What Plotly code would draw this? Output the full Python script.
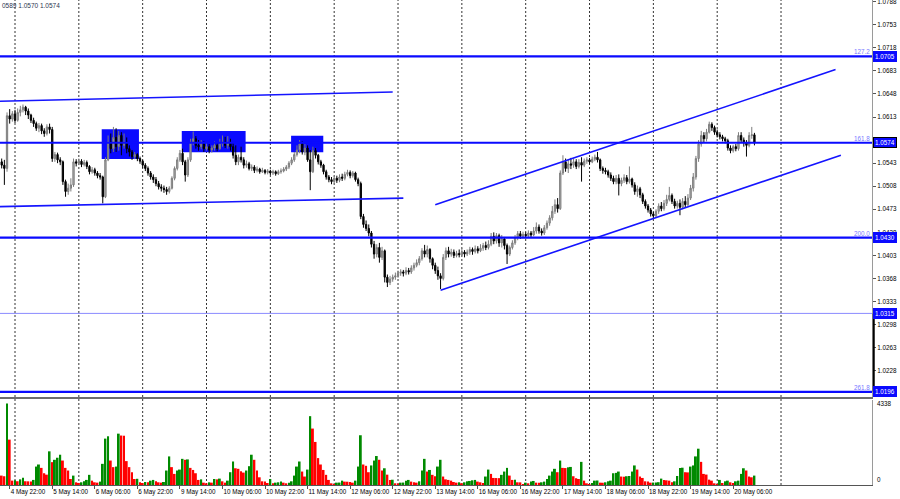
"""
EURUSD H1 with volumes, 4 May - 20 May
"""

import pandas as pd
import plotly.graph_objects as go

# prices in pips above 1.0000 (574 -> 1.0574), one value per hourly bar
first_open = 545
close_pips = [
    540, 535, 615, 610, 618, 608, 620, 624, 628, 622,
    616, 608, 603, 596, 600, 592, 588, 598, 594, 550,
    556, 548, 545, 515, 500, 505, 510, 545, 543, 546,
    541, 544, 538, 530, 533, 528, 524, 522, 492, 548,
    575, 565, 582, 568, 585, 570, 575, 565, 560, 553,
    556, 550, 546, 540, 535, 528, 522, 518, 512, 507,
    505, 503, 500, 505, 520, 535, 548, 558, 545, 525,
    548, 575, 580, 570, 568, 572, 565, 568, 563, 566,
    570, 565, 572, 575, 570, 574, 568, 555, 545, 552,
    548, 540, 542, 535, 537, 532, 534, 530, 532, 529,
    531, 528, 530, 527, 530, 531, 534, 537, 543, 548,
    556, 563, 572, 560, 566, 548, 530, 562, 555, 545,
    540, 530, 522, 518, 515, 520, 517, 522, 520, 526,
    529, 524, 528, 518, 512, 462, 450, 444, 437, 420,
    405, 415, 400, 410, 370, 362, 367, 370, 372, 376,
    378, 376, 380, 378, 384, 388, 392, 398, 410, 405,
    412, 398, 388, 380, 372, 368, 400, 410, 405, 408,
    403, 406, 404, 408, 405, 408, 412, 409, 413, 410,
    414, 418, 415, 420, 432, 425, 433, 422, 428, 418,
    405, 415, 422, 430, 436, 432, 435, 433, 437, 434,
    440, 446, 440, 437, 445, 452, 460, 470, 480, 474,
    528, 545, 535, 542, 540, 545, 538, 544, 540, 546,
    548, 545, 549, 552, 548, 535, 532, 530, 525, 520,
    515, 520, 512, 517, 521, 515, 519, 510, 500, 504,
    495, 485, 478, 472, 466, 463, 470, 478, 474, 482,
    488, 494, 485, 478, 482, 476, 485, 480, 490, 505,
    522, 550, 572, 585, 580, 590, 602, 597, 590, 586,
    583, 580, 577, 566, 562, 568, 565, 585, 578, 574,
    570, 585, 586, 574,
]
high_pips = [
    550, 548, 620, 625, 622, 624, 626, 630, 632, 630,
    626, 618, 612, 606, 604, 603, 596, 602, 603, 598,
    560, 559, 552, 547, 518, 512, 520, 550, 549, 550,
    549, 548, 547, 540, 537, 536, 531, 528, 524, 552,
    585, 588, 598, 596, 592, 590, 588, 582, 570, 563,
    560, 558, 553, 548, 543, 538, 531, 526, 522, 516,
    511, 509, 507, 508, 523, 538, 552, 563, 565, 548,
    552, 580, 591, 584, 578, 578, 576, 574, 572, 570,
    576, 574, 580, 585, 583, 584, 580, 575, 570, 556,
    568, 552, 547, 545, 541, 540, 538, 536, 536, 534,
    534, 533, 533, 532, 533, 535, 537, 540, 546, 552,
    560, 570, 578, 576, 572, 570, 563, 568, 566, 557,
    548, 542, 533, 525, 522, 523, 524, 526, 527, 530,
    533, 532, 531, 530, 521, 515, 466, 456, 450, 440,
    425, 420, 422, 416, 412, 374, 372, 374, 377, 380,
    382, 381, 385, 384, 388, 392, 397, 402, 414, 419,
    418, 414, 400, 392, 386, 376, 405, 415, 416, 413,
    412, 410, 412, 414, 411, 412, 416, 415, 418, 417,
    420, 422, 424, 426, 437, 438, 437, 436, 434, 431,
    421, 418, 426, 434, 440, 440, 439, 438, 441, 440,
    446, 453, 450, 444, 449, 456, 464, 478, 488, 490,
    532, 555, 550, 548, 551, 550, 549, 549, 552, 550,
    552, 551, 553, 556, 560, 550, 538, 536, 533, 529,
    524, 525, 526, 521, 526, 525, 538, 521, 514, 509,
    507, 498, 488, 481, 475, 469, 473, 482, 484, 487,
    495, 507, 497, 489, 486, 488, 490, 493, 496, 510,
    528, 554, 578, 592, 590, 595, 606, 605, 600, 594,
    590, 586, 583, 580, 570, 571, 572, 590, 590, 582,
    578, 590, 598, 589,
]
low_pips = [
    535, 510, 530, 603, 606, 604, 606, 614, 620, 616,
    610, 604, 598, 592, 590, 587, 583, 585, 588, 545,
    545, 543, 540, 510, 492, 495, 500, 507, 538, 540,
    537, 538, 534, 526, 527, 524, 520, 518, 482, 490,
    546, 558, 560, 560, 562, 555, 565, 558, 553, 548,
    549, 546, 542, 536, 531, 524, 518, 513, 508, 503,
    500, 498, 495, 497, 503, 517, 532, 545, 540, 515,
    522, 545, 570, 565, 562, 564, 560, 562, 558, 559,
    562, 561, 563, 568, 566, 565, 562, 550, 540, 540,
    544, 535, 536, 532, 531, 528, 529, 527, 528, 526,
    526, 525, 525, 524, 525, 527, 529, 531, 534, 540,
    545, 553, 558, 556, 555, 545, 502, 528, 550, 541,
    536, 526, 518, 514, 511, 512, 513, 514, 516, 517,
    523, 520, 521, 515, 508, 458, 445, 440, 432, 415,
    398, 400, 392, 396, 362, 355, 358, 363, 366, 369,
    372, 371, 373, 374, 375, 380, 385, 388, 395, 400,
    400, 392, 382, 375, 366, 352, 365, 396, 400, 401,
    399, 400, 400, 402, 400, 402, 404, 404, 406, 406,
    408, 410, 411, 412, 417, 420, 421, 416, 415, 412,
    390, 402, 412, 419, 426, 428, 429, 429, 430, 430,
    432, 436, 436, 433, 434, 442, 448, 456, 466, 468,
    472, 525, 530, 528, 534, 536, 534, 535, 515, 537,
    542, 541, 543, 546, 544, 531, 527, 526, 521, 516,
    511, 511, 494, 508, 513, 511, 512, 506, 495, 492,
    490, 481, 474, 468, 462, 459, 460, 466, 470, 471,
    478, 485, 481, 474, 474, 464, 473, 476, 478, 487,
    500, 518, 545, 568, 574, 576, 588, 592, 586, 582,
    579, 576, 573, 562, 558, 559, 561, 562, 574, 568,
    553, 567, 580, 570,
]
volumes = [
    500, 465, 4338, 2412, 232, 250, 200, 300, 380, 200,
    195, 190, 270, 980, 1090, 910, 625, 550, 1790, 1215,
    1340, 1450, 1610, 1300, 910, 770, 320, 500, 143, 110,
    143, 200, 270, 540, 230, 143, 125, 180, 1125, 2466,
    2590, 1300, 950, 980, 2730, 2630, 2620, 1270, 950, 680,
    320, 330, 143, 107, 160, 150, 230, 270, 196, 143,
    125, 160, 770, 1520, 950, 590, 770, 820, 1390, 1340,
    1360, 910, 800, 625, 270, 300, 125, 90, 143, 125,
    320, 300, 340, 196, 125, 232, 680, 1250, 890, 860,
    730, 660, 770, 1000, 1610, 1340, 770, 410, 196, 190,
    107, 320, 90, 125, 143, 180, 125, 90, 125, 196,
    500, 980, 1250, 715, 450, 820, 3660, 3000, 2290, 1430,
    1090, 800, 540, 270, 90, 54, 125, 130, 232, 180,
    175, 160, 125, 232, 980, 2645, 1090, 1020, 680, 1040,
    1300, 1540, 1340, 770, 890, 550, 270, 280, 90, 85,
    125, 130, 232, 270, 180, 143, 125, 196, 770, 1390,
    715, 800, 540, 465, 980, 1340, 450, 300, 270, 232,
    160, 125, 143, 90, 143, 196, 215, 250, 270, 180,
    143, 107, 450, 820, 590, 375, 370, 365, 540, 715,
    910, 500, 270, 280, 143, 140, 40, 125, 90, 180,
    215, 125, 120, 143, 180, 320, 500, 715, 860, 680,
    1300, 910, 900, 940, 960, 465, 360, 320, 1230, 232,
    90, 54, 107, 232, 240, 125, 120, 143, 196, 230,
    625, 645, 715, 450, 440, 465, 480, 715, 1040, 820,
    450, 375, 196, 180, 125, 130, 135, 150, 340, 270,
    250, 232, 143, 196, 480, 910, 920, 680, 670, 980,
    1040, 1520, 1930, 1230, 590, 555, 285, 232, 90, 54,
    270, 107, 196, 232, 143, 107, 196, 232, 590, 890,
    770, 450, 410, 500,
]

time_labels = ['4 May 22:00', '5 May 14:00', '6 May 06:00', '6 May 22:00',
               '9 May 14:00', '10 May 06:00', '10 May 22:00', '11 May 14:00',
               '12 May 06:00', '12 May 22:00', '13 May 14:00', '16 May 06:00',
               '16 May 22:00', '17 May 14:00', '18 May 06:00', '18 May 22:00',
               '19 May 14:00', '20 May 06:00']

level_prices = [1.0705, 1.0574, 1.0430, 1.0315, 1.0196]
level_names = ['127.2', '161.8', '200.0', '', '261.8']

# trend channels: (bar, pips) -> (bar, pips)
channels = [((-1, 637), (147, 651)),
            ((-1, 477), (151, 490)),
            ((163, 480), (313.5, 685)),
            ((165, 350), (315.5, 555))]
# blue zones: bar from, bar to, pips low, pips high
zones = [(37.6, 51.6, 549.3, 594.3),
         (67.7, 91.7, 559.4, 591.8),
         (108.8, 120.9, 559.4, 584.6)]

header = '0589 1.0570 1.0574'
vol_max = 4338

FONT = 'Liberation Sans'
BLUE = '#0a0aff'


def px(p):
    return 1 + p / 10000


n = len(close_pips)
cal = pd.date_range('2022-05-04 19:00', '2022-05-23 12:00', freq='h')
cal = cal[cal.dayofweek < 5]
cal_labels = [f"{t.day} {t:%b %H:%M}" for t in cal]
tick_pos = [cal_labels.index(s) for s in time_labels]
day_pos = [k for k, t in enumerate(cal) if t.hour == 0]

bars = list(range(n))
opens = [first_open] + close_pips[:-1]
o = [px(v) for v in opens]
c = [px(v) for v in close_pips]
h = [px(max(a, b, v)) for a, b, v in zip(opens, close_pips, high_pips)]
l = [px(min(a, b, v)) for a, b, v in zip(opens, close_pips, low_pips)]

vol_colors = ['#008a00' if k > 0 and v > volumes[k - 1] else '#ff0000'
              for k, v in enumerate(volumes)]

fig = go.Figure()
fig.add_trace(go.Candlestick(
    x=bars, open=o, high=h, low=l, close=c,
    increasing=dict(line=dict(color='#7c7c7c', width=1), fillcolor='#b4b4b4'),
    decreasing=dict(line=dict(color='#000000', width=1), fillcolor='#000000'),
    whiskerwidth=0, hoverinfo='skip', xaxis='x', yaxis='y'))
fig.add_trace(go.Bar(
    x=bars, y=volumes, marker_color=vol_colors, marker_line_width=0,
    width=0.72, hoverinfo='skip', xaxis='x2', yaxis='y2'))

shapes = []
# day separators (dotted grid)
for d in day_pos:
    shapes.append(dict(type='line', xref='x', yref='paper', x0=d, x1=d,
                       y0=0, y1=1, layer='below',
                       line=dict(color='#333333', width=1, dash='2px,2px')))
for x0, x1, p0, p1 in zones:
    shapes.append(dict(type='rect', xref='x', yref='y', x0=x0, x1=x1,
                       y0=px(p0), y1=px(p1), fillcolor=BLUE,
                       line=dict(width=0), layer='below'))
for (a, pa), (b, pb) in channels:
    shapes.append(dict(type='line', xref='x', yref='y', x0=a, x1=b,
                       y0=px(pa), y1=px(pb),
                       line=dict(color='#1414ff', width=1.6)))
for lv, nm in zip(level_prices, level_names):
    thin = nm == ''
    shapes.append(dict(type='line', xref='paper', yref='y', x0=0, x1=1,
                       y0=lv, y1=lv,
                       line=dict(color='#8a8aff' if thin else BLUE,
                                 width=1 if thin else 2.2)))
# dark mark on the price scale
shapes.append(dict(type='line', xref='paper', yref='y', x0=1.002, x1=1.002,
                   y0=level_prices[3], y1=level_prices[4],
                   line=dict(color='#000000', width=2)))

annotations = [dict(text=header, x=0, y=1, xref='paper', yref='paper',
                    xanchor='left', yanchor='top', showarrow=False,
                    font=dict(family=FONT, size=6.5, color='#2b3550'),
                    yshift=0)]
for lv, nm in zip(level_prices, level_names):
    if nm:
        annotations.append(dict(text=nm, x=1, y=lv, xref='paper', yref='y',
                                xanchor='right', yanchor='bottom',
                                showarrow=False, yshift=-1,
                                font=dict(family=FONT, size=6.3,
                                          color='#7878ff')))
    annotations.append(dict(text=f"{lv:.4f}", x=1, y=lv, xref='paper',
                            yref='y', xanchor='left', yanchor='middle',
                            xshift=1, showarrow=False, bgcolor=BLUE,
                            borderpad=1,
                            bordercolor='#000000' if lv == 1.0574 else BLUE,
                            borderwidth=1,
                            font=dict(family=FONT, size=6.3,
                                      color='#ffffff')))
annotations.append(dict(text=str(vol_max), x=1, y=vol_max, xref='paper',
                        yref='y2', xanchor='left', yanchor='middle', xshift=3,
                        showarrow=False,
                        font=dict(family=FONT, size=6.3, color='#000000')))
annotations.append(dict(text='0', x=1, y=0, xref='paper', yref='y2',
                        xanchor='left', yanchor='bottom', xshift=3,
                        showarrow=False,
                        font=dict(family=FONT, size=6.3, color='#000000')))

price_ticks = [round(1.0788 - 0.0035 * k, 4) for k in range(18)]
# the labels under the 1.0574 and 1.0196 price boxes are hidden
price_text = ['' if v in (1.0578, 1.0193) else f"{v:.4f}" for v in price_ticks]
x_range = [-0.64, 327.2]

fig.update_layout(
    width=900, height=499,
    margin=dict(l=0, r=28, t=0, b=14),
    paper_bgcolor='white', plot_bgcolor='white',
    showlegend=False, hovermode=False,
    font=dict(family=FONT, size=6.3, color='#000000'),
    shapes=shapes, annotations=annotations,
    xaxis=dict(domain=[0, 1], range=x_range, anchor='y', automargin=False,
               showticklabels=False, ticks='', showgrid=False,
               zeroline=False, showline=True, linecolor='#6e6e6e',
               linewidth=2, rangeslider=dict(visible=False)),
    xaxis2=dict(domain=[0, 1], range=x_range, anchor='y2', matches='x',
                automargin=False, tickangle=0, ticklabeloverflow='allow',
                tickmode='array', tickvals=tick_pos, ticktext=time_labels,
                ticks='outside', ticklen=3, tickcolor='#555555',
                ticklabelposition='outside right',
                tickfont=dict(family=FONT, size=6.3),
                showgrid=False, zeroline=False, showline=True,
                linecolor='#555555', linewidth=1),
    yaxis=dict(domain=[0.1814, 1], range=[1.01881, 1.07906], anchor='x',
               automargin=False, ticklabeloverflow='allow',
               side='right', tickmode='array', tickvals=price_ticks,
               ticktext=price_text,
               ticks='outside', ticklen=3, tickcolor='#555555',
               tickfont=dict(family=FONT, size=6.3),
               showgrid=False, zeroline=False, showline=True,
               linecolor='#9a9a9a', linewidth=1),
    yaxis2=dict(domain=[0, 0.1753], range=[0, 4520], anchor='x2',
                automargin=False,
                side='right', showticklabels=False, ticks='',
                showgrid=False, zeroline=False, showline=True,
                linecolor='#9a9a9a', linewidth=1),
)

fig.write_html("out.html",
               config={'displayModeBar': False},
               post_script="document.body.style.margin = '0px';")
